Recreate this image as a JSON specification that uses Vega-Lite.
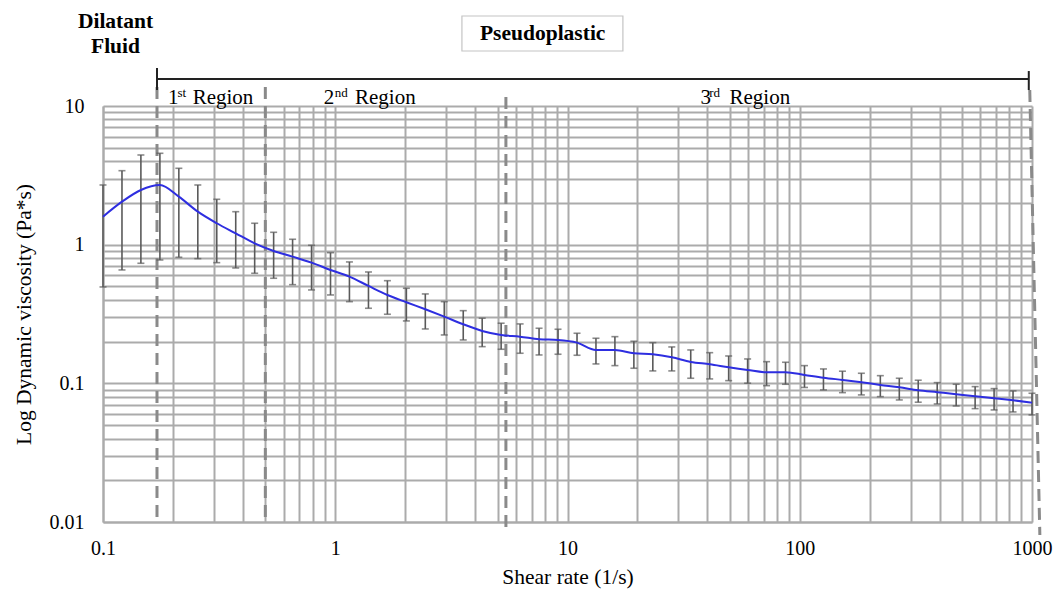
{
  "$schema": "https://vega.github.io/schema/vega-lite/v6.json",
  "width": 929,
  "height": 416,
  "autosize": {"type": "none"},
  "padding": {"left": 103, "top": 106, "right": 27, "bottom": 67},
  "background": "white",
  "config": {
    "view": {"stroke": null},
    "font": "Liberation Serif",
    "axis": {
      "grid": true,
      "gridColor": "#ababab",
      "gridWidth": 2,
      "domainColor": "#ababab",
      "domainWidth": 2,
      "ticks": false,
      "labelFont": "Liberation Serif",
      "labelFontSize": 20,
      "labelColor": "#000000",
      "labelFlush": false,
      "labelOverlap": false,
      "titleFont": "Liberation Serif",
      "titleFontSize": 21.5,
      "titleFontWeight": "normal",
      "titleColor": "#000000"
    },
    "axisX": {"labelPadding": 16, "titlePadding": 8},
    "axisY": {"labelPadding": 19, "titlePadding": 14}
  },
  "datasets": {
    "curve": [
      {"x": 0.1, "y": 1.592, "hi": 2.694, "lo": 0.4955},
      {"x": 0.1207, "y": 2.042, "hi": 3.416, "lo": 0.6571},
      {"x": 0.1456, "y": 2.48, "hi": 4.433, "lo": 0.7342},
      {"x": 0.1758, "y": 2.694, "hi": 4.56, "lo": 0.7757},
      {"x": 0.2121, "y": 2.219, "hi": 3.554, "lo": 0.8113},
      {"x": 0.256, "y": 1.729, "hi": 2.694, "lo": 0.7929},
      {"x": 0.3089, "y": 1.427, "hi": 2.125, "lo": 0.7417},
      {"x": 0.3728, "y": 1.208, "hi": 1.729, "lo": 0.6792},
      {"x": 0.4498, "y": 1.023, "hi": 1.427, "lo": 0.6218},
      {"x": 0.5429, "y": 0.9006, "hi": 1.228, "lo": 0.5725},
      {"x": 0.6551, "y": 0.8194, "hi": 1.094, "lo": 0.5147},
      {"x": 0.7906, "y": 0.7417, "hi": 0.99, "lo": 0.4714},
      {"x": 0.9541, "y": 0.6571, "hi": 0.8756, "lo": 0.4338},
      {"x": 1.151, "y": 0.5878, "hi": 0.7506, "lo": 0.3882},
      {"x": 1.39, "y": 0.5038, "hi": 0.6354, "lo": 0.3478},
      {"x": 1.677, "y": 0.4338, "hi": 0.5499, "lo": 0.3149},
      {"x": 2.024, "y": 0.3843, "hi": 0.485, "lo": 0.2818},
      {"x": 2.442, "y": 0.3421, "hi": 0.4412, "lo": 0.2467},
      {"x": 2.947, "y": 0.3027, "hi": 0.3882, "lo": 0.2233},
      {"x": 3.557, "y": 0.2668, "hi": 0.3343, "lo": 0.2055},
      {"x": 4.292, "y": 0.2386, "hi": 0.2948, "lo": 0.1839},
      {"x": 5.179, "y": 0.2233, "hi": 0.2713, "lo": 0.1761},
      {"x": 6.251, "y": 0.2171, "hi": 0.2682, "lo": 0.1648},
      {"x": 7.543, "y": 0.2079, "hi": 0.2496, "lo": 0.1602},
      {"x": 9.103, "y": 0.2055, "hi": 0.2455, "lo": 0.1621},
      {"x": 10.99, "y": 0.1965, "hi": 0.2297, "lo": 0.1594},
      {"x": 13.26, "y": 0.1741, "hi": 0.2114, "lo": 0.138},
      {"x": 16.0, "y": 0.1741, "hi": 0.2171, "lo": 0.1342},
      {"x": 19.31, "y": 0.1648, "hi": 0.2011, "lo": 0.1285},
      {"x": 23.3, "y": 0.1621, "hi": 0.1965, "lo": 0.1229},
      {"x": 28.12, "y": 0.1542, "hi": 0.183, "lo": 0.1229},
      {"x": 33.93, "y": 0.1427, "hi": 0.1741, "lo": 0.1088},
      {"x": 40.95, "y": 0.1373, "hi": 0.1664, "lo": 0.1076},
      {"x": 49.42, "y": 0.1306, "hi": 0.1575, "lo": 0.1046},
      {"x": 59.64, "y": 0.1249, "hi": 0.1499, "lo": 0.1002},
      {"x": 71.97, "y": 0.1202, "hi": 0.1433, "lo": 0.0962},
      {"x": 86.85, "y": 0.1202, "hi": 0.1419, "lo": 0.0985},
      {"x": 104.8, "y": 0.115, "hi": 0.1342, "lo": 0.0934},
      {"x": 126.5, "y": 0.1099, "hi": 0.127, "lo": 0.0896},
      {"x": 152.7, "y": 0.1058, "hi": 0.1223, "lo": 0.0857},
      {"x": 184.2, "y": 0.1018, "hi": 0.1182, "lo": 0.0825},
      {"x": 222.3, "y": 0.0974, "hi": 0.1136, "lo": 0.0802},
      {"x": 268.3, "y": 0.0937, "hi": 0.1088, "lo": 0.0759},
      {"x": 323.7, "y": 0.0892, "hi": 0.1053, "lo": 0.0731},
      {"x": 390.7, "y": 0.0863, "hi": 0.1012, "lo": 0.071},
      {"x": 471.5, "y": 0.0835, "hi": 0.0985, "lo": 0.0687},
      {"x": 569.0, "y": 0.0807, "hi": 0.0947, "lo": 0.0657},
      {"x": 686.7, "y": 0.0781, "hi": 0.0916, "lo": 0.0643},
      {"x": 828.6, "y": 0.0755, "hi": 0.0882, "lo": 0.0622},
      {"x": 1000, "y": 0.0726, "hi": 0.0848, "lo": 0.0592}
    ],
    "dashes": [
      {"x": 0.1708, "x2": 0.1708, "y": 13.71, "y2": 0.01},
      {"x": 0.5, "x2": 0.5, "y": 13.71, "y2": 0.01},
      {"x": 5.43, "x2": 5.43, "y": 11.61, "y2": 0.00876},
      {"x": 978, "x2": 1081, "y": 13.04, "y2": 0.00806}
    ],
    "bracket": [
      {"x": 0.1708, "x2": 968.6, "y": 15.65, "y2": 15.65},
      {"x": 0.1708, "x2": 0.1708, "y": 18.8, "y2": 13.04},
      {"x": 968.6, "x2": 968.6, "y": 17.87, "y2": 13.04}
    ],
    "box": [
      {"x": 3.511, "x2": 17.32, "y": 44.56, "y2": 24.92}
    ],
    "boldText": [
      {"x": 0.1132, "y": 40.5, "text": "Dilatant"},
      {"x": 0.1132, "y": 26.7, "text": "Fluid"},
      {"x": 7.82, "y": 32.94, "text": "Pseudoplastic"}
    ],
    "regionText": [
      {"x": 0.1905, "y": 10.34, "text": "1", "part": "main"},
      {"x": 0.2093, "y": 11.58, "text": "st", "part": "sup"},
      {"x": 0.2432, "y": 10.34, "text": "Region", "part": "main"},
      {"x": 0.8932, "y": 10.34, "text": "2", "part": "main"},
      {"x": 0.994, "y": 11.58, "text": "nd", "part": "sup"},
      {"x": 1.216, "y": 10.34, "text": "Region", "part": "main"},
      {"x": 37.34, "y": 10.34, "text": "3", "part": "main"},
      {"x": 40.77, "y": 11.58, "text": "rd", "part": "sup"},
      {"x": 49.83, "y": 10.34, "text": "Region", "part": "main"}
    ]
  },
  "encoding": {
    "x": {
      "field": "x",
      "type": "quantitative",
      "title": "Shear rate (1/s)",
      "scale": {"type": "log", "domain": [0.1, 1000], "nice": false},
      "axis": {
        "values": [0.1, 0.2, 0.3, 0.4, 0.5, 0.6, 0.7, 0.8, 0.9, 1, 2, 3, 4, 5, 6, 7, 8, 9, 10, 20, 30, 40, 50, 60, 70, 80, 90, 100, 200, 300, 400, 500, 600, 700, 800, 900, 1000],
        "labelExpr": "abs(log(datum.value)/LN10 - round(log(datum.value)/LN10)) < 0.000001 ? format(datum.value, '~g') : ''"
      }
    },
    "y": {
      "field": "y",
      "type": "quantitative",
      "title": "Log Dynamic viscosity (Pa*s)",
      "scale": {"type": "log", "domain": [0.01, 10], "nice": false},
      "axis": {
        "values": [0.01, 0.02, 0.03, 0.04, 0.05, 0.06, 0.07, 0.08, 0.09, 0.1, 0.2, 0.3, 0.4, 0.5, 0.6, 0.7, 0.8, 0.9, 1, 2, 3, 4, 5, 6, 7, 8, 9, 10],
        "labelExpr": "abs(log(datum.value)/LN10 - round(log(datum.value)/LN10)) < 0.000001 ? format(datum.value, '~g') : ''"
      }
    }
  },
  "layer": [
    {
      "data": {"name": "dashes"},
      "mark": {"type": "rule", "color": "#8a8a8a", "strokeWidth": 3, "strokeDash": [12, 7]},
      "encoding": {"x2": {"field": "x2"}, "y2": {"field": "y2"}}
    },
    {
      "data": {"name": "curve"},
      "mark": {"type": "rule", "color": "#5a5a5a", "strokeWidth": 1.6},
      "encoding": {
        "y": {
          "field": "lo",
          "type": "quantitative",
          "title": "Log Dynamic viscosity (Pa*s)",
          "scale": {"type": "log", "domain": [0.01, 10], "nice": false},
          "axis": {
            "values": [0.01, 0.02, 0.03, 0.04, 0.05, 0.06, 0.07, 0.08, 0.09, 0.1, 0.2, 0.3, 0.4, 0.5, 0.6, 0.7, 0.8, 0.9, 1, 2, 3, 4, 5, 6, 7, 8, 9, 10],
            "labelExpr": "abs(log(datum.value)/LN10 - round(log(datum.value)/LN10)) < 0.000001 ? format(datum.value, '~g') : ''"
          }
        },
        "y2": {"field": "hi"}
      }
    },
    {
      "data": {"name": "curve"},
      "mark": {"type": "tick", "orient": "horizontal", "color": "#5a5a5a", "size": 7, "thickness": 1.6},
      "encoding": {
        "y": {
          "field": "lo",
          "type": "quantitative",
          "title": "Log Dynamic viscosity (Pa*s)",
          "scale": {"type": "log", "domain": [0.01, 10], "nice": false},
          "axis": {
            "values": [0.01, 0.02, 0.03, 0.04, 0.05, 0.06, 0.07, 0.08, 0.09, 0.1, 0.2, 0.3, 0.4, 0.5, 0.6, 0.7, 0.8, 0.9, 1, 2, 3, 4, 5, 6, 7, 8, 9, 10],
            "labelExpr": "abs(log(datum.value)/LN10 - round(log(datum.value)/LN10)) < 0.000001 ? format(datum.value, '~g') : ''"
          }
        }
      }
    },
    {
      "data": {"name": "curve"},
      "mark": {"type": "tick", "orient": "horizontal", "color": "#5a5a5a", "size": 7, "thickness": 1.6},
      "encoding": {
        "y": {
          "field": "hi",
          "type": "quantitative",
          "title": "Log Dynamic viscosity (Pa*s)",
          "scale": {"type": "log", "domain": [0.01, 10], "nice": false},
          "axis": {
            "values": [0.01, 0.02, 0.03, 0.04, 0.05, 0.06, 0.07, 0.08, 0.09, 0.1, 0.2, 0.3, 0.4, 0.5, 0.6, 0.7, 0.8, 0.9, 1, 2, 3, 4, 5, 6, 7, 8, 9, 10],
            "labelExpr": "abs(log(datum.value)/LN10 - round(log(datum.value)/LN10)) < 0.000001 ? format(datum.value, '~g') : ''"
          }
        }
      }
    },
    {
      "data": {"name": "curve"},
      "mark": {"type": "line", "color": "#2e2ee0", "strokeWidth": 2, "interpolate": "monotone"},
      "encoding": {}
    },
    {
      "data": {"name": "bracket"},
      "mark": {"type": "rule", "color": "#222222", "strokeWidth": 2},
      "encoding": {"x2": {"field": "x2"}, "y2": {"field": "y2"}}
    },
    {
      "data": {"name": "box"},
      "mark": {"type": "rect", "fill": "white", "stroke": "#c4c4c4", "strokeWidth": 1.2},
      "encoding": {"x2": {"field": "x2"}, "y2": {"field": "y2"}}
    },
    {
      "data": {"name": "boldText"},
      "mark": {"type": "text", "font": "Liberation Serif", "fontSize": 21.5, "fontWeight": "bold", "align": "center", "baseline": "middle", "color": "#000000"},
      "encoding": {"text": {"field": "text"}}
    },
    {
      "data": {"name": "regionText"},
      "transform": [{"filter": "datum.part === 'main'"}],
      "mark": {"type": "text", "font": "Liberation Serif", "fontSize": 21, "align": "left", "baseline": "alphabetic", "color": "#000000"},
      "encoding": {"text": {"field": "text"}}
    },
    {
      "data": {"name": "regionText"},
      "transform": [{"filter": "datum.part === 'sup'"}],
      "mark": {"type": "text", "font": "Liberation Serif", "fontSize": 13, "align": "left", "baseline": "alphabetic", "color": "#000000"},
      "encoding": {"text": {"field": "text"}}
    }
  ]
}
